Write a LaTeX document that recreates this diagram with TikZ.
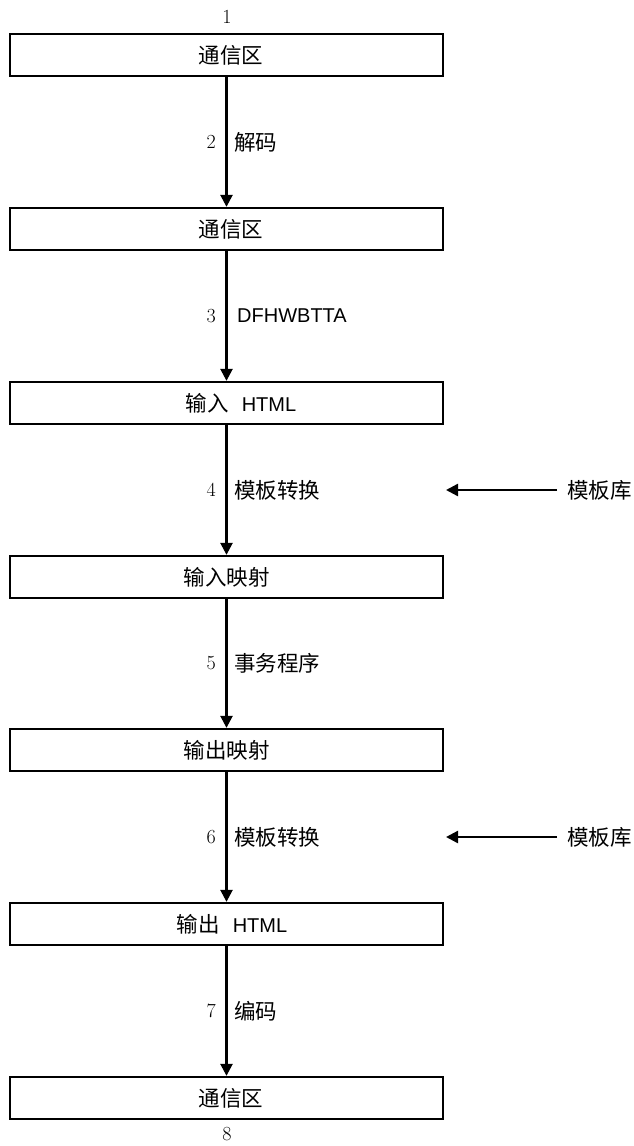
\documentclass[tikz,border=0pt]{standalone}
\usepackage{fontspec}
\newfontfamily\cjk{Noto Sans CJK SC}
\newfontfamily\arial{Liberation Sans}
\newcommand\htmlword{{\arial\fontsize{20}{22}\selectfont HTML}}
\usetikzlibrary{arrows.meta}
\tikzset{
  box/.style={draw, line width=2.3pt, minimum width=433pt, minimum height=42pt, inner sep=0pt,
              font=\cjk\fontsize{21.5}{24}\selectfont},
  arr/.style={line width=2.4pt, -{Triangle[length=12pt,width=12pt]}},
  num/.style={anchor=east, inner sep=0pt, font=\fontsize{20}{22}\selectfont},
  lbl/.style={anchor=west, inner sep=0pt, font=\cjk\fontsize{21.5}{24}\selectfont},
  lib/.style={anchor=west, inner sep=0pt, font=\cjk\fontsize{21.5}{24}\selectfont},
}
\begin{document}
\begin{tikzpicture}[x=1pt,y=-1pt]
\useasboundingbox (0,0) rectangle (634,1146);
\node[box] (b1) at (226.5,55) {\hspace*{9pt}通信区};
\node[box] (b2) at (226.5,229) {\hspace*{9pt}通信区};
\node[box] (b3) at (226.5,403) {\hspace*{29pt}输入\hspace{13pt}\htmlword};
\node[box] (b4) at (226.5,577) {输入映射};
\node[box] (b5) at (226.5,750) {输出映射};
\node[box] (b6) at (226.5,924) {\hspace*{11pt}输出\hspace{13pt}\htmlword};
\node[box] (b7) at (226.5,1098) {\hspace*{9pt}通信区};
\node[num, anchor=center] (n1) at (227,17) {1};
\node[num, anchor=center] (n8) at (227,1134) {8};
\draw[arr] (b1.south) -- (b2.north);
\draw[arr] (b2.south) -- (b3.north);
\draw[arr] (b3.south) -- (b4.north);
\draw[arr] (b4.south) -- (b5.north);
\draw[arr] (b5.south) -- (b6.north);
\draw[arr] (b6.south) -- (b7.north);
\node[num] (n2) at (216,142) {2};
\node[lbl] (l2) at (234,142) {解码};
\node[num] (n3) at (216,316) {3};
\node[lbl, font=\arial\fontsize{20}{22}\selectfont] (l3) at (237,316) {DFHWBTTA};
\node[num] (n4) at (216,490) {4};
\node[lbl] (l4) at (234,490) {模板转换};
\node[num] (n5) at (216,663) {5};
\node[lbl] (l5) at (234,663) {事务程序};
\node[num] (n6) at (216,837) {6};
\node[lbl] (l6) at (234,837) {模板转换};
\node[num] (n7) at (216,1011) {7};
\node[lbl] (l7) at (234,1011) {编码};
\node[lib] (k1) at (567,490) {模板库};
\node[lib] (k2) at (567,837) {模板库};
\coordinate (e1) at (446,490);
\coordinate (e2) at (446,837);
\draw[arr] ([xshift=-10pt]k1.west) -- (e1);
\draw[arr] ([xshift=-10pt]k2.west) -- (e2);
\end{tikzpicture}
\end{document}
